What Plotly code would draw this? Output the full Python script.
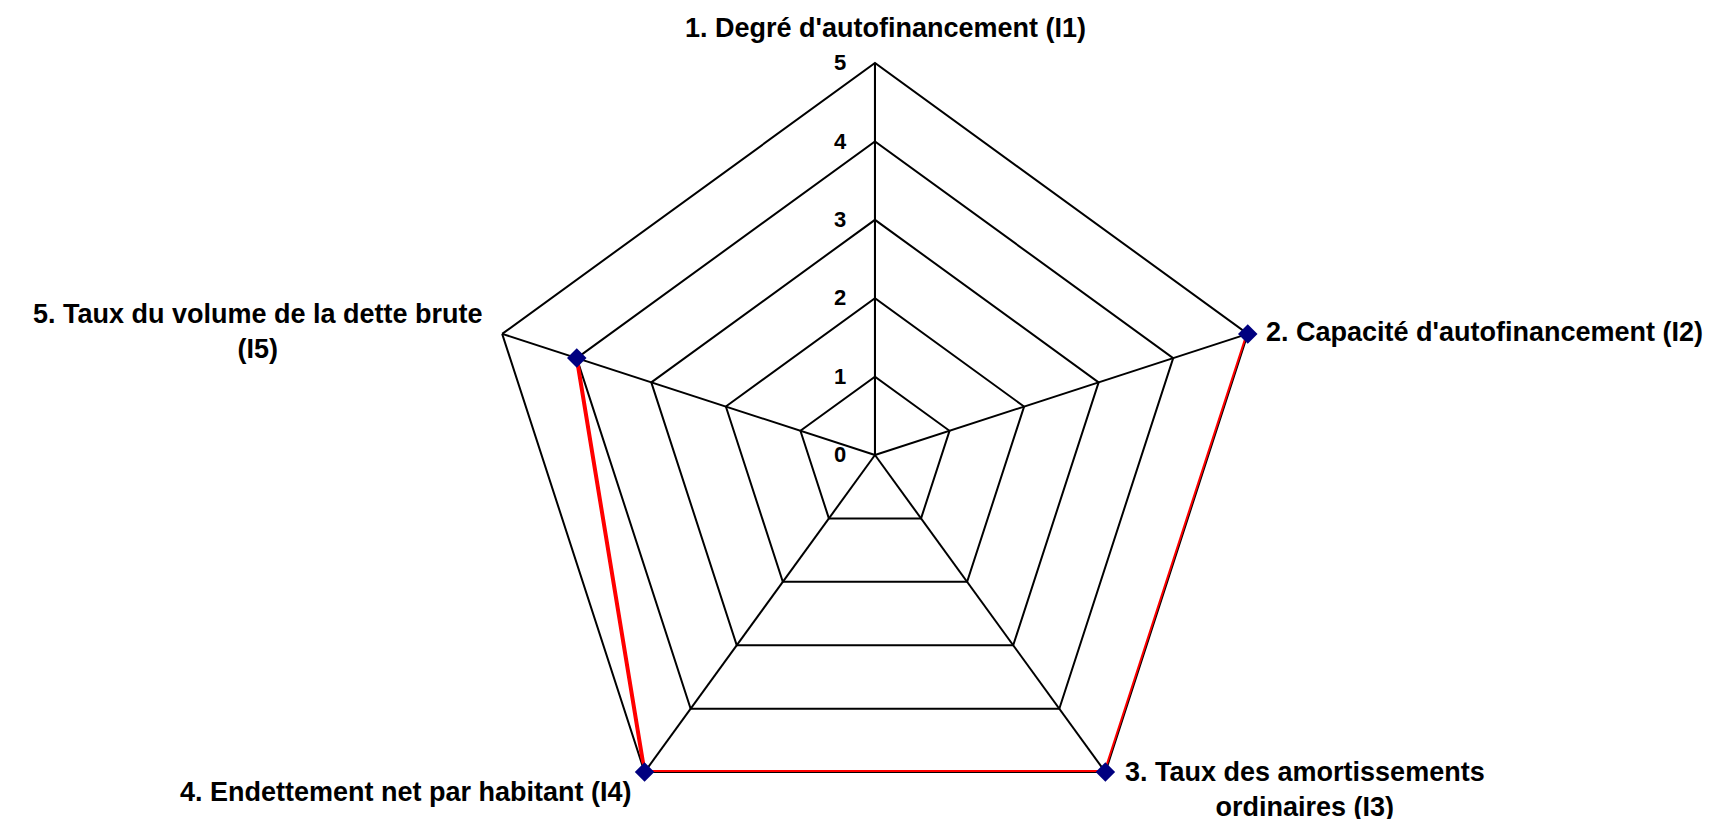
import plotly.graph_objects as go

categories = [
    "1. Degré d'autofinancement (I1)",
    "2. Capacité d'autofinancement (I2)",
    "3. Taux des amortissements<br>ordinaires (I3)",
    "4. Endettement net par habitant (I4)",
    "5. Taux du volume de la dette brute<br>(I5)",
]
values = [None, 5, 5, 5, 4]
radial_ticks = [0, 1, 2, 3, 4, 5]

# a little taller than the window: the space under the web is empty
W, H = 1726, 840

fig = go.Figure()
fig.add_trace(go.Scatterpolar(
    r=values,
    theta=categories,
    mode="lines+markers",
    line=dict(color="#ff0000", width=4),
    marker=dict(symbol="diamond", size=15, color="#000080"),
    connectgaps=False,
    showlegend=False,
    hoverinfo="skip",
))

# category labels placed around the pentagon (pixel positions on the page)
label_pos = [
    (877, 20, "center", "middle"),
    (1256, 324, "left", "middle"),
    (1297, 781, "center", "middle"),
    (626, 784, "right", "middle"),
    (250, 324, "center", "middle"),
]
for text, (px, py, xa, ya) in zip(categories, label_pos):
    fig.add_annotation(
        text=f"<b>{text}</b>",
        x=px / W, y=1 - py / H, xref="paper", yref="paper",
        xanchor=xa, yanchor=ya, align="center", showarrow=False,
        font=dict(size=27, color="black"),
    )

fig.update_layout(
    width=W, height=H,
    paper_bgcolor="white",
    plot_bgcolor="white",
    margin=dict(l=0, r=0, t=0, b=0, autoexpand=False),
    font=dict(family="Liberation Sans, Arial, sans-serif", size=26, color="black"),
    polar=dict(
        domain=dict(x=[0.2752, 0.7294], y=[0.0012, 0.9345]),
        gridshape="linear",
        bgcolor="white",
        radialaxis=dict(
            range=[0, 5],
            tickvals=radial_ticks,
            ticktext=[f"<b>{v}</b>" for v in radial_ticks],
            angle=90,
            tickangle=90,
            side="counterclockwise",
            showline=True, linecolor="black", linewidth=2,
            gridcolor="black", gridwidth=2,
            ticks="outside", ticklen=20, tickcolor="rgba(0,0,0,0)",
            tickfont=dict(size=22),
            layer="below traces",
        ),
        angularaxis=dict(
            direction="clockwise",
            rotation=90,
            showline=True, linecolor="black", linewidth=2,
            gridcolor="black", gridwidth=2,
            ticks="",
            categoryarray=categories,
            showticklabels=False,
            layer="below traces",
        ),
    ),
)

fig.write_html("out.html")
